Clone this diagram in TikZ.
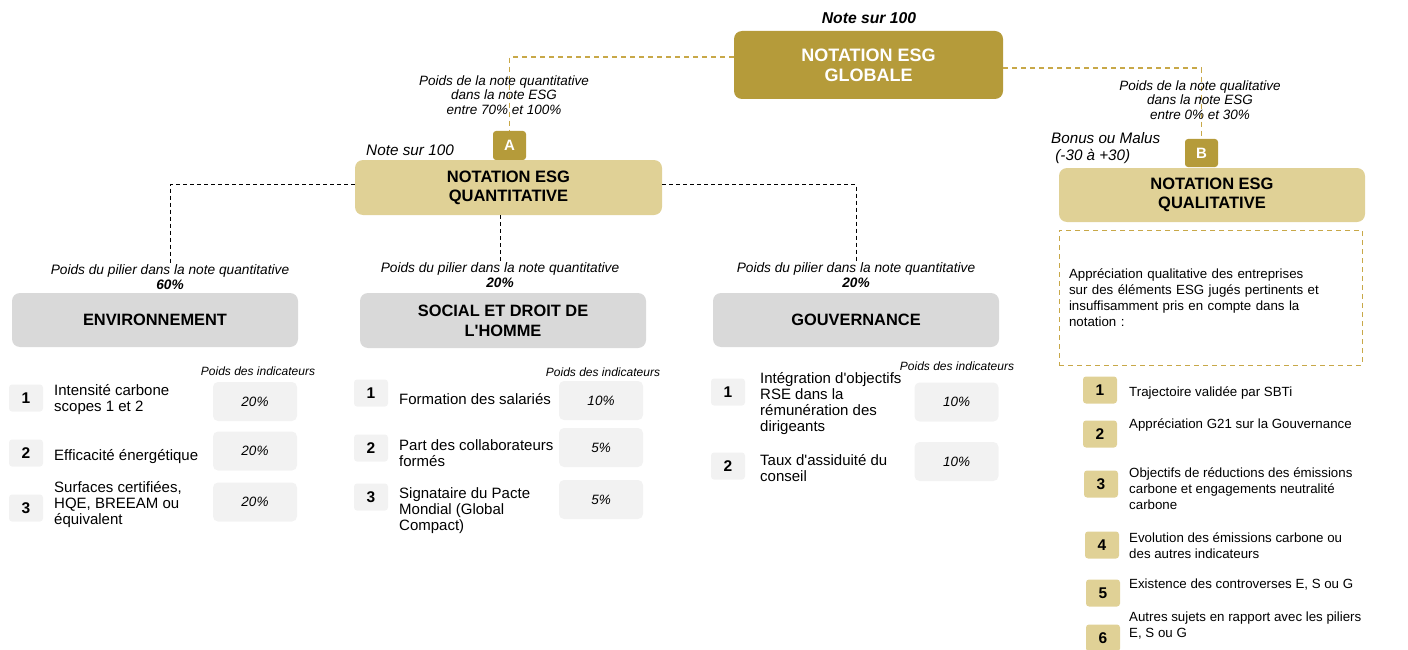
\documentclass[tikz,border=0pt]{standalone}
\usepackage{fontspec}
\setmainfont{Liberation Sans}
\usetikzlibrary{positioning}

\definecolor{golddark}{RGB}{181,155,58}
\definecolor{goldlight}{RGB}{224,209,150}
\definecolor{goldline}{RGB}{200,168,72}
\definecolor{greybox}{RGB}{217,217,217}
\definecolor{greylight}{RGB}{242,242,242}

\newcommand{\ap}{\textquotesingle}

\begin{document}
\begin{tikzpicture}
	[x=1pt,y=-1pt,every node/.style={inner sep=0pt},
		main node/.style={rounded corners=8pt,align=center,text=white,fill=golddark,font=\bfseries\fontsize{18}{20}\selectfont},
		sub node/.style={rounded corners=8pt,align=center,fill=goldlight,font=\bfseries\fontsize{16.5}{19}\selectfont,minimum width=307pt,minimum height=55pt},
		letter node/.style={rounded corners=3pt,fill=golddark,text=white,font=\bfseries\fontsize{15}{16}\selectfont,minimum width=33pt,minimum height=29pt},
		pillar node/.style={rounded corners=8pt,align=center,fill=greybox,font=\bfseries\fontsize{16.4}{20}\selectfont,minimum width=286pt,minimum height=54pt},
		num node/.style={rounded corners=3pt,fill=greylight,font=\bfseries\fontsize{15.5}{16}\selectfont,minimum width=34pt,minimum height=27pt},
		qnum node/.style={num node,fill=goldlight},
		weight node/.style={rounded corners=5pt,fill=greylight,font=\itshape\fontsize{13.5}{15}\selectfont,minimum width=84pt,minimum height=39pt},
		item node/.style={anchor=west,align=left,font=\fontsize{15}{16}\selectfont},
		qitem node/.style={anchor=west,align=left,font=\fontsize{13.3}{16}\selectfont},
		note node/.style={align=center,font=\itshape\fontsize{13.5}{14.5}\selectfont},
		pillar note/.style={align=center,font=\itshape\fontsize{13.7}{15}\selectfont},
		small note/.style={font=\itshape\fontsize{12}{13}\selectfont},
		gold dash/.style={draw=goldline,line width=1.1pt,dash pattern=on 5pt off 4pt},
		black dash/.style={draw=black,line width=0.9pt,dash pattern=on 4pt off 3pt}]

	\useasboundingbox (0,0) rectangle (1408,650);

	% global rating
	\node[font=\bfseries\itshape\fontsize{15.7}{17}\selectfont] (top) at (869,18) {Note sur 100};
	\node[main node,minimum width=269pt,minimum height=68pt] (glob) at (868.5,65) {NOTATION ESG\\GLOBALE};

	\node[letter node] (A) at (509.5,145.5) {A};
	\node[letter node,minimum height=28pt] (B) at (1201.5,153) {B};

	\draw[gold dash] ([yshift=8pt]glob.west) -| (A.north);
	\draw[gold dash] ([yshift=-3pt]glob.east) -| (B.north);

	\node[note node] (wA) at (504,95) {Poids de la note quantitative\\dans la note ESG\\entre 70\% et 100\%};
	\node[note node] (wB) at (1200,100) {Poids de la note qualitative\\dans la note ESG\\entre 0\% et 30\%};

	% quantitative part
	\node[font=\itshape\fontsize{15.3}{16}\selectfont] (qnote) at (410,150) {Note sur 100};
	\node[sub node] (quant) at (508.5,187.5) {NOTATION ESG\\QUANTITATIVE};

	\node[pillar note] (envw) at (170,277) {Poids du pilier dans la note quantitative\\\textbf{60\%}};
	\node[pillar note] (socw) at (500,275) {Poids du pilier dans la note quantitative\\\textbf{20\%}};
	\node[pillar note] (gouw) at (856,275) {Poids du pilier dans la note quantitative\\\textbf{20\%}};

	\draw[black dash] ([yshift=3pt]quant.west) -| (envw.north);
	\draw[black dash] (quant.south -| socw.north) -- (socw.north);
	\draw[black dash] ([yshift=3pt]quant.east) -| (gouw.north);

	\node[pillar node] (env) at (155,320) {ENVIRONNEMENT};
	\node[pillar node,minimum height=55pt] (soc) at (503,320.5) {SOCIAL ET DROIT DE\\L\ap HOMME};
	\node[pillar node] (gou) at (856,320) {GOUVERNANCE};

	\node[small note] (envi) at (258,371) {Poids des indicateurs};
	\node[small note] (soci) at (603,372) {Poids des indicateurs};
	\node[small note] (goui) at (957,366) {Poids des indicateurs};

	% environnement
	\node[num node] (e1) at (26,398) {1};
	\node[num node] (e2) at (26,453) {2};
	\node[num node] (e3) at (26,508) {3};
	\node[item node] (e1t) at (54,400) {Intensité carbone\\scopes 1 et 2};
	\node[item node] (e2t) at (54,457) {Efficacité énergétique};
	\node[item node] (e3t) at (54,505) {Surfaces certifiées,\\HQE, BREEAM ou\\équivalent};
	\node[weight node] (e1w) at (255,401.5) {20\%};
	\node[weight node] (e2w) at (255,451) {20\%};
	\node[weight node] (e3w) at (255,502) {20\%};

	% social
	\node[num node] (s1) at (371,393) {1};
	\node[num node] (s2) at (371,448) {2};
	\node[num node] (s3) at (371,497) {3};
	\node[item node] (s1t) at (399,399) {Formation des salariés};
	\node[item node] (s2t) at (399,453) {Part des collaborateurs\\formés};
	\node[item node] (s3t) at (399,511) {Signataire du Pacte\\Mondial (Global\\Compact)};
	\node[weight node] (s1w) at (601,400.5) {10\%};
	\node[weight node] (s2w) at (601,447.5) {5\%};
	\node[weight node] (s3w) at (601,499.5) {5\%};

	% gouvernance
	\node[num node] (g1) at (728,392) {1};
	\node[num node] (g2) at (728,466) {2};
	\node[item node] (g1t) at (760,404) {Intégration d\ap objectifs\\RSE dans la\\rémunération des\\dirigeants};
	\node[item node] (g2t) at (760,468) {Taux d\ap assiduité du\\conseil};
	\node[weight node] (g1w) at (956.5,402) {10\%};
	\node[weight node] (g2w) at (956.5,461.5) {10\%};

	% qualitative part
	\node[anchor=west,align=left,font=\itshape\fontsize{15.2}{17}\selectfont] (bonus) at (1051,148) {Bonus ou Malus\\\ (-30 à +30)};
	\node[sub node,minimum width=306pt,minimum height=54pt] (qual) at (1212,195) {NOTATION ESG\\QUALITATIVE};
	\node[gold dash,line width=0.9pt,minimum width=303pt,minimum height=135pt,text width=283pt,align=left,font=\fontsize{13.3}{16}\selectfont] (desc) at (1210.5,297.5) {Appréciation qualitative des entreprises\\sur des éléments ESG jugés pertinents et\\insuffisamment pris en compte dans la\\notation :};

	\node[qnum node] (q1) at (1100,390) {1};
	\node[qnum node] (q2) at (1100,434) {2};
	\node[qnum node] (q3) at (1101,484) {3};
	\node[qnum node] (q4) at (1102,545) {4};
	\node[qnum node] (q5) at (1103,593) {5};
	\node[qnum node] (q6) at (1103,638) {6};
	\node[qitem node] (q1t) at (1129,393) {Trajectoire validée par SBTi};
	\node[qitem node] (q2t) at (1129,425) {Appréciation G21 sur la Gouvernance};
	\node[qitem node] (q3t) at (1129,489) {Objectifs de réductions des émissions\\carbone et engagements neutralité\\carbone};
	\node[qitem node] (q4t) at (1129,546) {Evolution des émissions carbone ou\\des autres indicateurs};
	\node[qitem node] (q5t) at (1129,585) {Existence des controverses E, S ou G};
	\node[qitem node] (q6t) at (1129,626) {Autres sujets en rapport avec les piliers\\E, S ou G};
\end{tikzpicture}
\end{document}
